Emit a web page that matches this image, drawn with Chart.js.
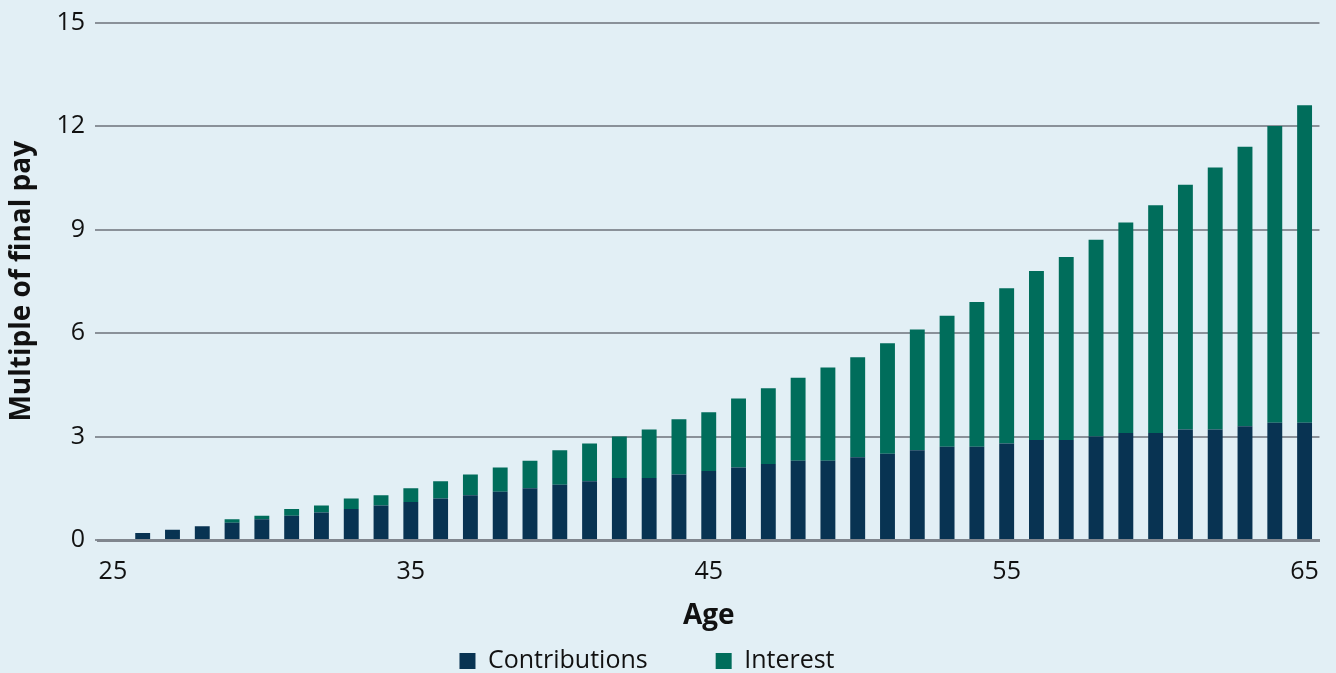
<!DOCTYPE html>
<html>
<head>
<meta charset="utf-8">
<script src="https://cdn.jsdelivr.net/npm/chart.js@4"></script>
<style>
  html, body { margin: 0; padding: 0; background: #e2eff5; }
  #wrap { width: 1336px; height: 673px; position: relative; }
</style>
</head>
<body>
<div id="wrap"><canvas id="c"></canvas></div>
<script>
const ages = [25,26,27,28,29,30,31,32,33,34,35,36,37,38,39,40,41,42,43,44,45,46,47,48,49,50,51,52,53,54,55,56,57,58,59,60,61,62,63,64,65];
const contributions = [null,0.2,0.3,0.4,0.5,0.6,0.7,0.8,0.9,1.0,1.1,1.2,1.3,1.4,1.5,1.6,1.7,1.8,1.8,1.9,2.0,2.1,2.2,2.3,2.3,2.4,2.5,2.6,2.7,2.7,2.8,2.9,2.9,3.0,3.1,3.1,3.2,3.2,3.3,3.4,3.4];
const interest = [null,0,0,0,0.1,0.1,0.2,0.2,0.3,0.3,0.4,0.5,0.6,0.7,0.8,1.0,1.1,1.2,1.4,1.6,1.7,2.0,2.2,2.4,2.7,2.9,3.2,3.5,3.8,4.2,4.5,4.9,5.3,5.7,6.1,6.6,7.1,7.6,8.1,8.6,9.2];
const shownAgeLabels = [25,35,45,55,65];
const yTicks = [0,3,6,9,12,15];

const FONT = "'Open Sans', 'Noto Sans', sans-serif";
const TEXT = '#111111';

new Chart(document.getElementById('c'), {
  type: 'bar',
  data: {
    labels: ages,
    datasets: [
      { label: 'Contributions', data: contributions, backgroundColor: '#083352', borderWidth: 0 },
      { label: 'Interest', data: interest, backgroundColor: '#006d5b', borderWidth: 0 }
    ]
  },
  options: {
    responsive: true,
    maintainAspectRatio: false,
    animation: false,
    datasets: { bar: { barPercentage: 0.5, categoryPercentage: 1.0 } },
    layout: { padding: { top: 7.5, right: 10, left: -32, bottom: -10.5 } },
    plugins: {
      tooltip: { enabled: false },
      legend: {
        position: 'bottom',
        labels: {
          color: TEXT,
          font: { family: FONT, size: 25 },
          boxWidth: 16,
          boxHeight: 16,
          padding: 68
        }
      }
    },
    scales: {
      x: {
        stacked: true,
        grid: { display: false, drawTicks: false },
        border: { display: true, color: '#80868e', width: 3 },
        ticks: {
          color: TEXT,
          font: { family: FONT, size: 25 },
          padding: 17,
          autoSkip: false,
          maxRotation: 0,
          callback: function(v, i) { const a = ages[i]; return shownAgeLabels.includes(a) ? String(a) : ''; }
        },
        title: {
          display: true, text: 'Age', color: TEXT,
          font: { family: FONT, size: 28, weight: 'bold' },
          padding: { top: 0, bottom: -52.3 }
        },
        afterFit: function(s) { s.height = 40.5; }
      },
      y: {
        stacked: true,
        min: 0, max: 15,
        afterBuildTicks: function(s) { s.ticks = yTicks.map(v => ({ value: v })); },
        grid: { color: '#8a9199', lineWidth: 2, drawTicks: true, tickLength: 3 },
        border: { display: false },
        ticks: {
          color: TEXT,
          font: { family: FONT, size: 25, lineHeight: 1.0 },
          padding: 10
        },
        title: {
          display: true, text: 'Multiple of final pay', color: TEXT,
          font: { family: FONT, size: 28, weight: 'bold' },
          padding: { top: 37.2, bottom: 0 }
        },
        afterFit: function(s) { s.width = 130; }
      }
    }
  }
});
</script>
</body>
</html>
